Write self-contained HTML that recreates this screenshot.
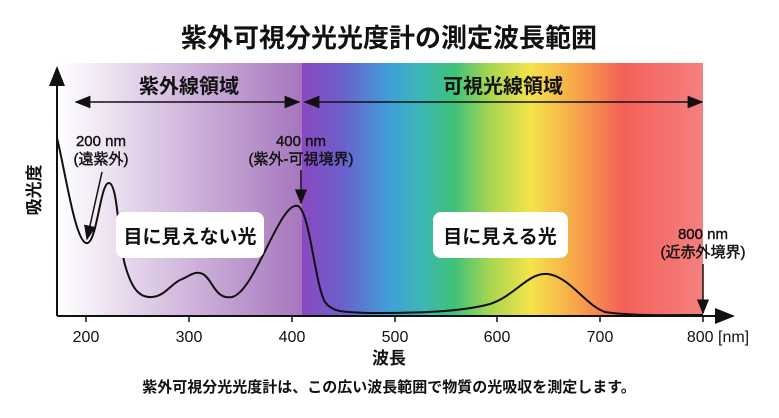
<!DOCTYPE html><html><head><meta charset="utf-8"><style>
body{margin:0;width:779px;height:413px;background:#fff;overflow:hidden}
svg text{font-family:"Liberation Sans","Noto Sans CJK JP",sans-serif}
</style></head><body>
<svg width="779" height="413" viewBox="0 0 779 413">
<defs>
<linearGradient id="uv" x1="0" x2="1"><stop offset="0" stop-color="#fff"/><stop offset="0.25" stop-color="#e9dcee"/><stop offset="1" stop-color="#a676bd"/></linearGradient>
<linearGradient id="vis" x1="0" x2="1">
<stop offset="0" stop-color="#8a48c0"/><stop offset="0.1" stop-color="#6b60cc"/><stop offset="0.22" stop-color="#3fa0d8"/><stop offset="0.3" stop-color="#3cb7b4"/><stop offset="0.38" stop-color="#3fc27a"/><stop offset="0.47" stop-color="#a8d650"/><stop offset="0.57" stop-color="#f4e44a"/><stop offset="0.68" stop-color="#f7a84a"/><stop offset="0.8" stop-color="#f46058"/><stop offset="1" stop-color="#f48080"/></linearGradient>
<marker id="ah" markerWidth="10" markerHeight="8" refX="9" refY="4" orient="auto-start-reverse"><path d="M0,0 L10,4 L0,8 z" fill="#111"/></marker>
</defs>
<text x="389" y="47" text-anchor="middle" font-size="26" font-weight="bold" fill="#111">紫外可視分光光度計の測定波長範囲</text>
<rect x="59" y="63" width="243" height="253" fill="url(#uv)"/>
<rect x="302" y="63" width="401" height="253" fill="url(#vis)"/>
<text x="189" y="93" text-anchor="middle" font-size="20" font-weight="bold" fill="#111">紫外線領域</text>
<text x="503" y="93" text-anchor="middle" font-size="20" font-weight="bold" fill="#111">可視光線領域</text>
<line x1="76" y1="102" x2="299" y2="102" stroke="#111" stroke-width="1.6" marker-start="url(#ah)" marker-end="url(#ah)"/>
<line x1="305" y1="102" x2="702" y2="102" stroke="#111" stroke-width="1.6" marker-start="url(#ah)" marker-end="url(#ah)"/>
<line x1="57" y1="316" x2="57" y2="68" stroke="#111" stroke-width="2" marker-end="url(#ah)"/>
<line x1="57" y1="316" x2="733" y2="316" stroke="#111" stroke-width="2" marker-end="url(#ah)"/>
<g stroke="#111" stroke-width="1.5"><line x1="86" y1="316" x2="86" y2="322"/><line x1="189" y1="316" x2="189" y2="322"/><line x1="292" y1="316" x2="292" y2="322"/><line x1="395" y1="316" x2="395" y2="322"/><line x1="497" y1="316" x2="497" y2="322"/><line x1="600" y1="316" x2="600" y2="322"/><line x1="703" y1="316" x2="703" y2="322"/></g>
<g font-size="16" fill="#111" text-anchor="middle"><text x="86" y="342">200</text><text x="189" y="342">300</text><text x="292" y="342">400</text><text x="395" y="342">500</text><text x="497" y="342">600</text><text x="600" y="342">700</text><text x="718" y="342">800 [nm]</text></g>
<text x="389" y="364" text-anchor="middle" font-size="17" font-weight="bold" fill="#111">波長</text>
<text x="389" y="392" text-anchor="middle" font-size="15" font-weight="bold" fill="#111">紫外可視分光光度計は、この広い波長範囲で物質の光吸収を測定します。</text>
<text x="40" y="190" font-size="17" font-weight="bold" fill="#111" transform="rotate(-90 40 190)" text-anchor="middle">吸光度</text>
<path d="M57,138 C65,170 75,240 86,243 C97,246 100,182 109,183 C118,184 118,240 125,265 C132,290 140,298 152,297 C165,296 170,285 180,280 C190,276 195,270 203,274 C213,280 215,300 232,297 C255,292 280,200 298,206 C310,212 315,285 325,302 C333,313 345,312 370,313 C420,313 460,312 490,304 C515,296 528,272 548,274 C570,277 585,305 605,312 C630,316 670,315 703,315" fill="none" stroke="#111" stroke-width="2"/>
<g font-size="15" fill="#111" text-anchor="middle" stroke="#111" stroke-width="0.4"><text x="101" y="146">200 nm</text><text x="101" y="164">(遠紫外)</text>
<text x="301" y="146">400 nm</text><text x="301" y="164">(紫外-可視境界)</text>
<text x="703" y="239">800 nm</text><text x="703" y="257">(近赤外境界)</text></g>
<line x1="102" y1="172" x2="87" y2="239" stroke="#111" stroke-width="1.5" marker-end="url(#ah)"/>
<line x1="301" y1="170" x2="301" y2="203" stroke="#111" stroke-width="1.5" marker-end="url(#ah)"/>
<line x1="703" y1="264" x2="703" y2="313" stroke="#111" stroke-width="1.5" marker-end="url(#ah)"/>
<rect x="116" y="212" width="148" height="46" rx="8" fill="#fff"/>
<text x="190" y="243" text-anchor="middle" font-size="19" font-weight="bold" fill="#111">目に見えない光</text>
<rect x="433" y="212" width="135" height="46" rx="8" fill="#fff"/>
<text x="500" y="243" text-anchor="middle" font-size="19" font-weight="bold" fill="#111">目に見える光</text>
</svg></body></html>
